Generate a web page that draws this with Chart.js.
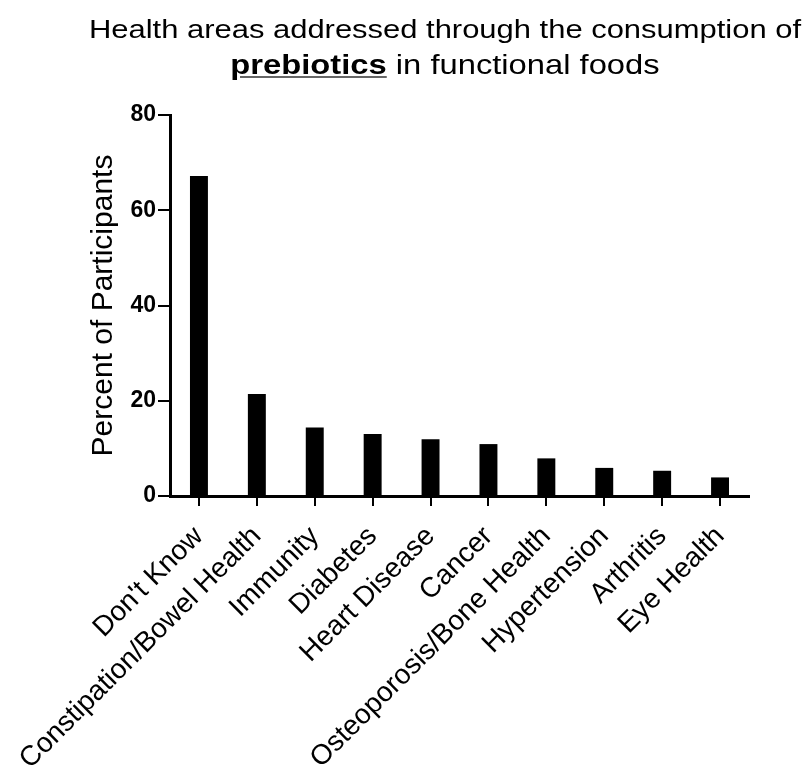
<!DOCTYPE html>
<html>
<head>
<meta charset="utf-8">
<script src="https://cdn.jsdelivr.net/npm/chart.js@4"></script>
<style>
  body { margin: 0; background: #fff; }
  #wrap { position: relative; width: 803px; height: 771px; overflow: hidden; }
  #title {
    position: absolute; left: 45px; top: 12px; width: 800px;
    text-align: center; font-family: "Liberation Sans", Arial, sans-serif;
    font-size: 26px; line-height: 35px; color: #000;
    transform: scaleX(1.19); transform-origin: 400px 0;
  }
  #title .l2 { font-size: 27.5px; }
  #title b { text-decoration: underline; text-decoration-color: #666; }
  canvas { position: absolute; left: 0; top: 0; }
</style>
</head>
<body>
<div id="wrap">
  <canvas id="chart" width="803" height="771"></canvas>
  <div id="title">Health areas addressed through the consumption of<br><span class="l2"><b>prebiotics</b> in functional foods</span></div>
</div>
<script>
// health areas, percent of participants
const categories = [
  "Don't Know", "Constipation/Bowel Health", "Immunity", "Diabetes",
  "Heart Disease", "Cancer", "Osteoporosis/Bone Health", "Hypertension",
  "Arthritis", "Eye Health"
];
const percents = [67.2, 21.4, 14.4, 13.0, 11.9, 10.9, 7.9, 5.9, 5.3, 3.9];
const yTicks = [0, 20, 40, 60, 80];

const ctx = document.getElementById("chart").getContext("2d");
new Chart(ctx, {
  type: "bar",
  data: {
    labels: categories,
    datasets: [{
      data: percents,
      backgroundColor: "#000",
      borderWidth: 0,
      categoryPercentage: 1,
      barPercentage: 0.31,
    }],
  },
  options: {
    responsive: false,
    animation: false,
    layout: { padding: { top: 115, right: 54, left: 86, bottom: 0 } },
    plugins: { legend: { display: false }, tooltip: { enabled: false } },
    scales: {
      x: {
        offset: true,
        grid: { display: true, drawOnChartArea: false, color: "#000", lineWidth: 2, tickLength: 10, offset: false },
        border: { display: true, color: "#000", width: 3 },
        ticks: {
          color: "#000", maxRotation: 45, minRotation: 45, autoSkip: false,
          font: { family: "Liberation Sans", size: 28 }, padding: 14,
        },
        afterFit: (scale) => { scale.height = 275; },
      },
      y: {
        min: 0, max: 80,
        afterBuildTicks: (scale) => { scale.ticks = yTicks.map((v) => ({ value: v })); },
        grid: { display: true, drawOnChartArea: false, color: "#000", lineWidth: 2, tickLength: 12 },
        border: { display: true, color: "#000", width: 3 },
        ticks: { color: "#000", font: { family: "Liberation Sans", size: 23, weight: "bold" }, padding: 2 },
        title: {
          display: true, text: "Percent of Participants", color: "#000",
          font: { family: "Liberation Sans", size: 30 }, padding: { top: 0, bottom: 0 },
        },
        afterFit: (scale) => { scale.width = 84; },
      },
    },
  },
});
</script>
</body>
</html>
